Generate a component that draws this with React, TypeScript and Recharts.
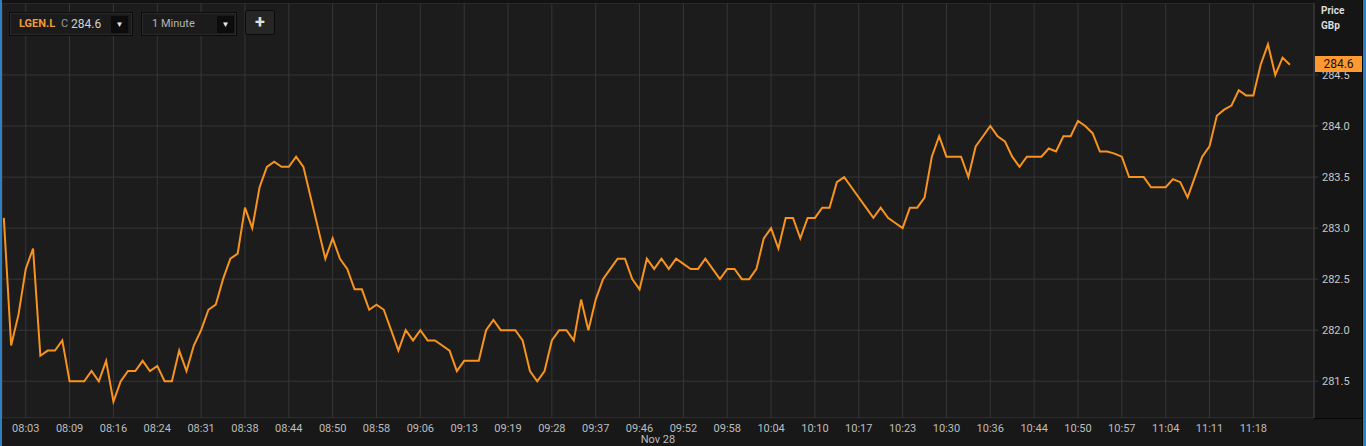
import React from "react"
import { LineChart, Line, XAxis, YAxis, CartesianGrid, Label } from "recharts"

// one point per traded minute, 08:00 .. 11:21
const prices = [
  283.1, 281.85, 282.15, 282.6, 282.8, 281.75, 281.8, 281.8, 281.9, 281.5,
  281.5, 281.5, 281.6, 281.5, 281.7, 281.3, 281.5, 281.6, 281.6, 281.7,
  281.6, 281.65, 281.5, 281.5, 281.8, 281.6, 281.85, 282.0, 282.2, 282.25,
  282.5, 282.7, 282.75, 283.2, 283.0, 283.4, 283.6, 283.65, 283.6, 283.6,
  283.7, 283.6, 283.3, 283.0, 282.7, 282.9, 282.7, 282.6, 282.4, 282.4,
  282.2, 282.25, 282.2, 282.0, 281.8, 282.0, 281.9, 282.0, 281.9, 281.9,
  281.85, 281.8, 281.6, 281.7, 281.7, 281.7, 282.0, 282.1, 282.0, 282.0,
  282.0, 281.9, 281.6, 281.5, 281.6, 281.9, 282.0, 282.0, 281.9, 282.3,
  282.0, 282.3, 282.5, 282.6, 282.7, 282.7, 282.5, 282.4, 282.7, 282.6,
  282.7, 282.6, 282.7, 282.65, 282.6, 282.6, 282.7, 282.6, 282.5, 282.6,
  282.6, 282.5, 282.5, 282.6, 282.9, 283.0, 282.8, 283.1, 283.1, 282.9,
  283.1, 283.1, 283.2, 283.2, 283.45, 283.5, 283.4, 283.3, 283.2, 283.1,
  283.2, 283.1, 283.05, 283.0, 283.2, 283.2, 283.3, 283.7, 283.9, 283.7,
  283.7, 283.7, 283.5, 283.8, 283.9, 284.0, 283.9, 283.85, 283.7, 283.6,
  283.7, 283.7, 283.7, 283.78, 283.75, 283.9, 283.9, 284.05, 284.0, 283.93,
  283.75, 283.75, 283.73, 283.7, 283.5, 283.5, 283.5, 283.4, 283.4, 283.4,
  283.48, 283.45, 283.3, 283.5, 283.7, 283.8, 284.1, 284.16, 284.2, 284.35,
  284.3, 284.3, 284.6, 284.8, 284.5, 284.67, 284.6,
]

const timeLabels = [
  "08:03", "08:09", "08:16", "08:24", "08:31", "08:38", "08:44", "08:50",
  "08:58", "09:06", "09:13", "09:19", "09:28", "09:37", "09:46", "09:52",
  "09:58", "10:04", "10:10", "10:17", "10:23", "10:30", "10:36", "10:44",
  "10:50", "10:57", "11:04", "11:11", "11:18",
]
// a label sits on every 6th point, starting at the 4th
const firstLabelIdx = 3
const labelStep = 6

const priceTicks = [281.5, 282.0, 282.5, 283.0, 283.5, 284.0, 284.5]
const lastPrice = "284.6"

const data = prices.map((v, i) => ({ i, v }))
const xTicks = timeLabels.map((_, k) => firstLabelIdx + k * labelStep)
const labelFor = (i: number) => timeLabels[(i - firstLabelIdx) / labelStep] ?? ""

const font = "Roboto, 'Liberation Sans', Arial, sans-serif"

const box: React.CSSProperties = {
  position: "absolute",
  top: 12,
  height: 22,
  background: "#1b1b1b",
  border: "1px solid #0a0a0a",
  boxShadow: "inset 0 0 0 1px #2a2a2a",
  fontSize: 11,
  lineHeight: "22px",
  boxSizing: "content-box",
}

const dropBtn: React.CSSProperties = {
  position: "absolute",
  top: 3,
  width: 17,
  height: 17,
  background: "#0c0c0c",
  color: "#e8e8e8",
  fontSize: 8,
  lineHeight: "17px",
  textAlign: "center",
  borderRadius: 1,
}

export default function App() {
  return (
    <div
      style={{
        position: "absolute",
        left: 0,
        top: 0,
        width: 1366,
        height: 446,
        background: "#111111",
        fontFamily: font,
        overflow: "hidden",
      }}
    >
      {/* right price panel and bottom time band */}
      <div style={{ position: "absolute", left: 1314, top: 0, width: 48, height: 418, background: "#151515" }} />
      <div style={{ position: "absolute", left: 0, top: 418, width: 1366, height: 28, background: "#181818" }} />
      <div style={{ position: "absolute", left: 0, top: 418, width: 1362, height: 1, background: "#070707" }} />

      <div style={{ position: "absolute", left: 0, top: 0 }}>
        <LineChart width={1366} height={446} data={data} margin={{ top: 3, right: 4, bottom: 0, left: 2 }}>
          <CartesianGrid stroke="#363636" fill="#1c1c1c" />
          <XAxis
            dataKey="i"
            type="number"
            domain={[-0.25, 179.3]}
            ticks={xTicks}
            interval={0}
            tickFormatter={labelFor}
            height={28}
            axisLine={false}
            tickLine={false}
            tickSize={4}
            tickMargin={2}
            tick={{ fill: "#bdbdbd", fontSize: 11, fontFamily: font }}
            allowDataOverflow
          >
            <Label value="Nov 28" position="insideBottom" offset={3} fill="#bdbdbd" fontSize={11} fontFamily={font} />
          </XAxis>
          <YAxis
            orientation="right"
            domain={[281.14, 285.205]}
            ticks={priceTicks}
            interval={0}
            width={48}
            tickFormatter={(v: number) => v.toFixed(1)}
            axisLine={{ stroke: "#3a3a3a" }}
            tickLine={{ stroke: "#3a3a3a" }}
            tickSize={4}
            tickMargin={4}
            tick={{ fill: "#c8c8c8", fontSize: 11, fontFamily: font, textAnchor: "start" }}
            allowDataOverflow
          />
          <Line
            type="linear"
            dataKey="v"
            stroke="#f7931e"
            strokeWidth={2}
            dot={false}
            isAnimationActive={false}
          />
        </LineChart>
      </div>

      {/* window edges */}
      <div style={{ position: "absolute", left: 0, top: 0, width: 2, height: 446, background: "#2f7fc1" }} />
      <div style={{ position: "absolute", left: 1362, top: 0, width: 1, height: 446, background: "#050505" }} />
      <div style={{ position: "absolute", left: 1363, top: 0, width: 3, height: 446, background: "#2f7fc1" }} />
      <div style={{ position: "absolute", left: 2, top: 0, width: 1312, height: 3, background: "#121212" }} />

      {/* instrument picker */}
      <div style={{ ...box, left: 9, width: 122 }}>
        <span style={{ position: "absolute", left: 9, color: "#f29a38", fontWeight: 700 }}>LGEN.L</span>
        <span style={{ position: "absolute", left: 51, color: "#9a9a9a" }}>C</span>
        <span style={{ position: "absolute", left: 61, color: "#d0d0d0", fontSize: 12 }}>284.6</span>
        <div style={{ ...dropBtn, left: 101 }}>▼</div>
      </div>

      {/* interval picker */}
      <div style={{ ...box, left: 141, width: 94 }}>
        <span style={{ position: "absolute", left: 10, color: "#b5b5b5" }}>1 Minute</span>
        <div style={{ ...dropBtn, left: 75 }}>▼</div>
      </div>

      {/* add button */}
      <div
        style={{
          position: "absolute",
          left: 245,
          top: 10,
          width: 28,
          height: 23,
          background: "#262626",
          border: "1px solid #0b0b0b",
          borderRadius: 2,
          color: "#e0e0e0",
          fontSize: 18,
          fontWeight: 700,
          lineHeight: "22px",
          textAlign: "center",
        }}
      >
        +
      </div>

      {/* price axis header */}
      <div style={{ position: "absolute", left: 1321, top: 3, color: "#dcdcdc", fontSize: 10, fontWeight: 700, lineHeight: "15px" }}>
        Price
        <br />
        GBp
      </div>

      {/* last price tag */}
      <div
        style={{
          position: "absolute",
          left: 1315,
          top: 56,
          width: 47,
          height: 16,
          background: "#ff9a33",
          color: "#111",
          fontSize: 12,
          lineHeight: "16px",
          textAlign: "center",
        }}
      >
        {lastPrice}
      </div>
    </div>
  )
}
